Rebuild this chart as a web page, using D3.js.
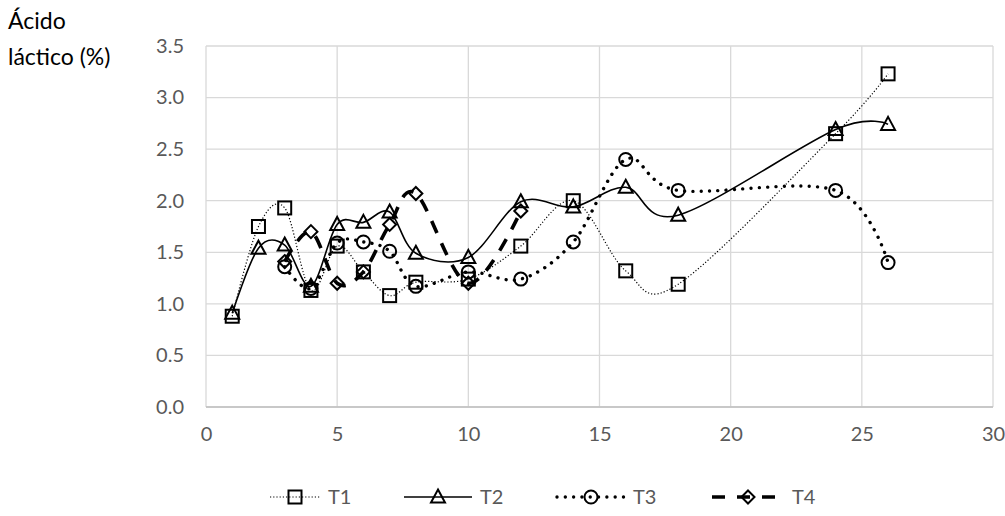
<!DOCTYPE html>
<html><head><meta charset="utf-8">
<script src="https://cdn.jsdelivr.net/npm/d3@7"></script>
<style>body{margin:0;background:#fff;} svg{display:block;}</style>
</head><body>
<svg id="chart" width="1005" height="516"></svg>
<script>
const titleLines = ["Ácido", "láctico (%)"];
const xTicks = [0,5,10,15,20,25,30];
const yTicks = [0,0.5,1,1.5,2,2.5,3,3.5];
const seriesNames = ["T1","T2","T3","T4"];
const xT1 = [1,2,3,4,5,6,7,8,10,12,14,16,18,24,26];
const T1  = [0.88,1.75,1.93,1.13,1.56,1.31,1.08,1.21,1.24,1.56,2.00,1.32,1.19,2.65,3.23];
const xT2 = [1,2,3,4,5,6,7,8,10,12,14,16,18,24,26];
const T2  = [0.91,1.54,1.57,1.17,1.77,1.79,1.89,1.49,1.45,1.99,1.94,2.13,1.86,2.69,2.74];
const xT3 = [3,4,5,6,7,8,10,12,14,16,18,24,26];
const T3  = [1.36,1.15,1.59,1.60,1.51,1.17,1.31,1.24,1.60,2.40,2.10,2.10,1.40];
const xT4 = [3,4,5,6,7,8,10,12];
const T4  = [1.41,1.70,1.20,1.31,1.77,2.07,1.20,1.90];

const svg = d3.select("#chart");
const W = 1005, H = 516;
const m = {left:206, right:12, top:46, bottom:109};
const x = d3.scaleLinear().domain([0,30]).range([m.left, W-m.right]);
const y = d3.scaleLinear().domain([0,3.5]).range([H-m.bottom, m.top]);
const font = "Lato, 'Open Sans', sans-serif";

// gridlines
svg.append("g").selectAll("line.h").data(yTicks).join("line")
  .attr("x1", x(0)).attr("x2", x(30)).attr("y1", d=>y(d)).attr("y2", d=>y(d))
  .attr("stroke", "#d9d9d9").attr("stroke-width", 1.3);
svg.append("g").selectAll("line.v").data(xTicks).join("line")
  .attr("x1", d=>x(d)).attr("x2", d=>x(d)).attr("y1", y(0)).attr("y2", y(3.5))
  .attr("stroke", "#d9d9d9").attr("stroke-width", 1.3);
svg.append("line").attr("x1", x(0)).attr("x2", x(30)).attr("y1", y(0)).attr("y2", y(0))
  .attr("stroke", "#bfbfbf").attr("stroke-width", 1.3);

// axes labels
const yAxis = d3.axisLeft(y).tickValues(yTicks).tickFormat(d3.format(".1f")).tickSize(0).tickPadding(22);
const gy = svg.append("g").attr("transform", `translate(${x(0)},0)`).call(yAxis);
gy.select(".domain").remove();
gy.selectAll("text").attr("fill", "#595959").style("font-family", font).style("font-size", "20px");
const xAxis = d3.axisBottom(x).tickValues(xTicks).tickFormat(d3.format("d")).tickSize(0).tickPadding(20);
const gx = svg.append("g").attr("transform", `translate(0,${y(0)})`).call(xAxis);
gx.select(".domain").remove();
gx.selectAll("text").attr("fill", "#595959").style("font-family", font).style("font-size", "20px");

// title
svg.append("g").selectAll("text").data(titleLines).join("text")
  .attr("x", 8).attr("y", (d,i)=>29 + i*36).text(d=>d)
  .attr("fill", "#000").style("font-family", font).style("font-size", "23px");

const styles = {
  T1: {dash:"1.2,2", width:1.2, cap:"butt"},
  T2: {dash:null, width:1.6, cap:"butt"},
  T3: {dash:"0.01,8.3", width:3.4, cap:"round"},
  T4: {dash:"13,11", width:3.6, cap:"butt"}
};
const seriesData = [
  {name:"T1", xs:xT1, ys:T1, marker:"square"},
  {name:"T2", xs:xT2, ys:T2, marker:"triangle"},
  {name:"T3", xs:xT3, ys:T3, marker:"circle"},
  {name:"T4", xs:xT4, ys:T4, marker:"diamond"}
];
const line = d3.line().x(d=>x(d[0])).y(d=>y(d[1])).curve(d3.curveCardinal.tension(0));

function drawMarker(g, type, cx, cy) {
  const s = 13;
  let el;
  if (type === "square") {
    el = g.append("rect").attr("x", cx - s/2).attr("y", cy - s/2).attr("width", s).attr("height", s);
  } else if (type === "triangle") {
    el = g.append("path").attr("d", `M${cx},${cy-7.5}L${cx+7},${cy+5.5}L${cx-7},${cy+5.5}Z`);
  } else if (type === "circle") {
    el = g.append("circle").attr("cx", cx).attr("cy", cy).attr("r", 6.5);
  } else {
    el = g.append("path").attr("d", `M${cx},${cy-6.5}L${cx+6.5},${cy}L${cx},${cy+6.5}L${cx-6.5},${cy}Z`);
  }
  el.attr("fill", "none").attr("stroke", "#000").attr("stroke-width", 2);
}

seriesData.forEach(s => {
  const pts = s.xs.map((v,i)=>[v, s.ys[i]]);
  const st = styles[s.name];
  svg.append("path").attr("d", line(pts)).attr("fill", "none")
    .attr("stroke", "#000").attr("stroke-width", st.width)
    .attr("stroke-dasharray", st.dash).attr("stroke-linecap", st.cap);
  const g = svg.append("g");
  pts.forEach(p => drawMarker(g, s.marker, x(p[0]), y(p[1])));
});

// legend
const legendX = [270, 404, 557, 712];
const legendY = 497;
seriesData.forEach((s, i) => {
  const st = styles[s.name];
  const x0 = legendX[i];
  const len = (i === 0) ? 50 : (i === 3 ? 72 : 68);
  svg.append("line").attr("x1", x0).attr("x2", x0 + len).attr("y1", legendY).attr("y2", legendY)
    .attr("stroke", "#000").attr("stroke-width", st.width)
    .attr("stroke-dasharray", i === 3 ? "13,12" : st.dash).attr("stroke-linecap", st.cap);
  const g = svg.append("g");
  drawMarker(g, s.marker, x0 + len/2, legendY);
  svg.append("text").attr("x", x0 + len + 8).attr("y", legendY + 7).text(seriesNames[i])
    .attr("fill", "#595959").style("font-family", font).style("font-size", "20px");
});
</script>
</body></html>
